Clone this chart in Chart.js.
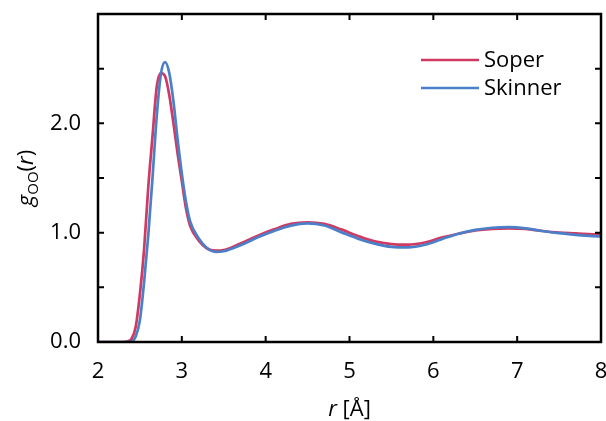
<!DOCTYPE html>
<html>
<head>
<meta charset="utf-8">
<script src="https://cdn.jsdelivr.net/npm/chart.js@4/dist/chart.umd.min.js"></script>
<style>
  html, body { margin: 0; padding: 0; background: #fff; }
  #wrap { width: 606px; height: 421px; }
</style>
</head>
<body>
<div id="wrap"><canvas id="rdf" width="606" height="421"></canvas></div>
<script>
// O-O radial distribution
const rValues = [2.0, 2.2, 2.3, 2.35, 2.4, 2.45, 2.5, 2.55, 2.6, 2.65, 2.7, 2.75, 2.8, 2.85, 2.9, 2.95,
  3.0, 3.05, 3.1, 3.2, 3.3, 3.4, 3.5, 3.7, 3.9, 4.1, 4.3, 4.5, 4.7, 4.9, 5.1, 5.3, 5.5, 5.7, 5.9,
  6.1, 6.3, 6.5, 6.7, 6.9, 7.1, 7.3, 7.5, 7.7, 7.9, 8.0];
const soperG = [0.0, 0.0, 0.0, 0.005, 0.03, 0.14, 0.44, 0.85, 1.42, 1.88, 2.33, 2.46, 2.43, 2.26, 2.0, 1.72,
  1.47, 1.22, 1.06, 0.93, 0.855, 0.835, 0.84, 0.9, 0.97, 1.03, 1.08, 1.095, 1.08, 1.03, 0.97, 0.92, 0.895, 0.89, 0.91,
  0.955, 0.99, 1.02, 1.035, 1.04, 1.035, 1.015, 1.0, 0.993, 0.985, 0.983];
const skinnerG = [0.0, 0.0, 0.0, 0.0, 0.005, 0.05, 0.2, 0.55, 0.98, 1.5, 2.06, 2.45, 2.56, 2.46, 2.2, 1.85,
  1.54, 1.28, 1.1, 0.95, 0.86, 0.825, 0.83, 0.885, 0.955, 1.015, 1.065, 1.085, 1.065, 1.005, 0.945, 0.9, 0.87, 0.865, 0.89,
  0.94, 0.99, 1.025, 1.045, 1.05, 1.04, 1.015, 0.995, 0.98, 0.968, 0.965];
const seriesNames = ['Soper', 'Skinner'];
const seriesColors = ['#cf3a63', '#4b80c8'];
const xTicks = [2, 3, 4, 5, 6, 7, 8];
const yLabelled = [0, 1, 2];

const FONT = '"Open Sans", "DejaVu Sans", sans-serif';

function pts(ys) {
  return rValues.map((r, i) => ({ x: r, y: ys[i] }));
}

// frame, inward ticks, legend and axis titles
const decorations = {
  id: 'decorations',
  afterDraw(chart) {
    const ctx = chart.ctx;
    const a = chart.chartArea;
    const xs = chart.scales.x, ys = chart.scales.y;
    ctx.save();
    ctx.strokeStyle = '#000';
    ctx.lineWidth = 2;
    // ticks
    ctx.beginPath();
    xTicks.forEach(v => {
      const px = xs.getPixelForValue(v);
      ctx.moveTo(px, a.bottom); ctx.lineTo(px, a.bottom - 6);
      ctx.moveTo(px, a.top); ctx.lineTo(px, a.top + 6);
    });
    for (let v = 0.5; v < 3; v += 0.5) {
      const py = ys.getPixelForValue(v);
      ctx.moveTo(a.left, py); ctx.lineTo(a.left + 6, py);
      ctx.moveTo(a.right, py); ctx.lineTo(a.right - 6, py);
    }
    ctx.stroke();
    ctx.lineWidth = 2.5;
    ctx.strokeRect(a.left, a.top, a.right - a.left, a.bottom - a.top);

    // legend
    ctx.font = '22px ' + FONT;
    ctx.textBaseline = 'middle';
    ctx.textAlign = 'left';
    seriesNames.forEach((name, i) => {
      const y = 60 + i * 28;
      ctx.strokeStyle = seriesColors[i];
      ctx.lineWidth = 2.5;
      ctx.beginPath(); ctx.moveTo(421, y); ctx.lineTo(479, y); ctx.stroke();
      ctx.fillStyle = '#000';
      ctx.fillText(name, 484, y + 1);
    });

    // x title: r [Å]
    ctx.textBaseline = 'alphabetic';
    const xt1 = 'r', xt2 = ' [Å]';
    ctx.font = 'italic 22px ' + FONT;
    const w1 = ctx.measureText(xt1).width;
    ctx.font = '22px ' + FONT;
    const w2 = ctx.measureText(xt2).width;
    let x0 = (a.left + a.right) / 2 - (w1 + w2) / 2;
    ctx.font = 'italic 22px ' + FONT;
    ctx.fillText(xt1, x0, 416);
    ctx.font = '22px ' + FONT;
    ctx.fillText(xt2, x0 + w1, 416);

    // y title: g_OO(r)
    const parts = [
      { t: 'g', f: 'italic 22px ' + FONT, dy: 0 },
      { t: 'OO', f: '15px ' + FONT, dy: 5 },
      { t: '(', f: '22px ' + FONT, dy: 0 },
      { t: 'r', f: 'italic 22px ' + FONT, dy: 0 },
      { t: ')', f: '22px ' + FONT, dy: 0 }
    ];
    let total = 0;
    parts.forEach(p => { ctx.font = p.f; p.w = ctx.measureText(p.t).width; total += p.w; });
    ctx.translate(33, (a.top + a.bottom) / 2);
    ctx.rotate(-Math.PI / 2);
    let cx = -total / 2;
    parts.forEach(p => {
      ctx.font = p.f;
      ctx.fillText(p.t, cx, p.dy);
      cx += p.w;
    });
    ctx.restore();
  }
};

new Chart(document.getElementById('rdf'), {
  type: 'line',
  data: {
    datasets: [
      { label: seriesNames[1], data: pts(skinnerG), borderColor: seriesColors[1], borderWidth: 2.7,
        pointRadius: 0, cubicInterpolationMode: 'monotone', fill: false },
      { label: seriesNames[0], data: pts(soperG), borderColor: seriesColors[0], borderWidth: 2.7,
        pointRadius: 0, cubicInterpolationMode: 'monotone', fill: false }
    ]
  },
  options: {
    responsive: false,
    animation: false,
    layout: { padding: { top: 14, right: 5, left: 0, bottom: 0 } },
    plugins: { legend: { display: false }, tooltip: { enabled: false } },
    scales: {
      x: {
        type: 'linear', min: 2, max: 8,
        afterBuildTicks: s => { s.ticks = xTicks.map(v => ({ value: v })); },
        afterFit: s => { s.height = 79; s.paddingLeft = 0; s.paddingRight = 0; },
        grid: { display: false },
        border: { display: false },
        ticks: { color: '#000', font: { family: FONT, size: 22 }, padding: 9, maxRotation: 0,
          callback: v => String(v) }
      },
      y: {
        min: 0, max: 3,
        afterBuildTicks: s => { s.ticks = yLabelled.map(v => ({ value: v })); },
        afterFit: s => { s.width = 98; s.paddingTop = 0; s.paddingBottom = 0; },
        grid: { display: false },
        border: { display: false },
        ticks: { color: '#000', font: { family: FONT, size: 22 }, padding: 9,
          callback: v => v.toFixed(1) }
      }
    }
  },
  plugins: [decorations]
});
</script>
</body>
</html>
